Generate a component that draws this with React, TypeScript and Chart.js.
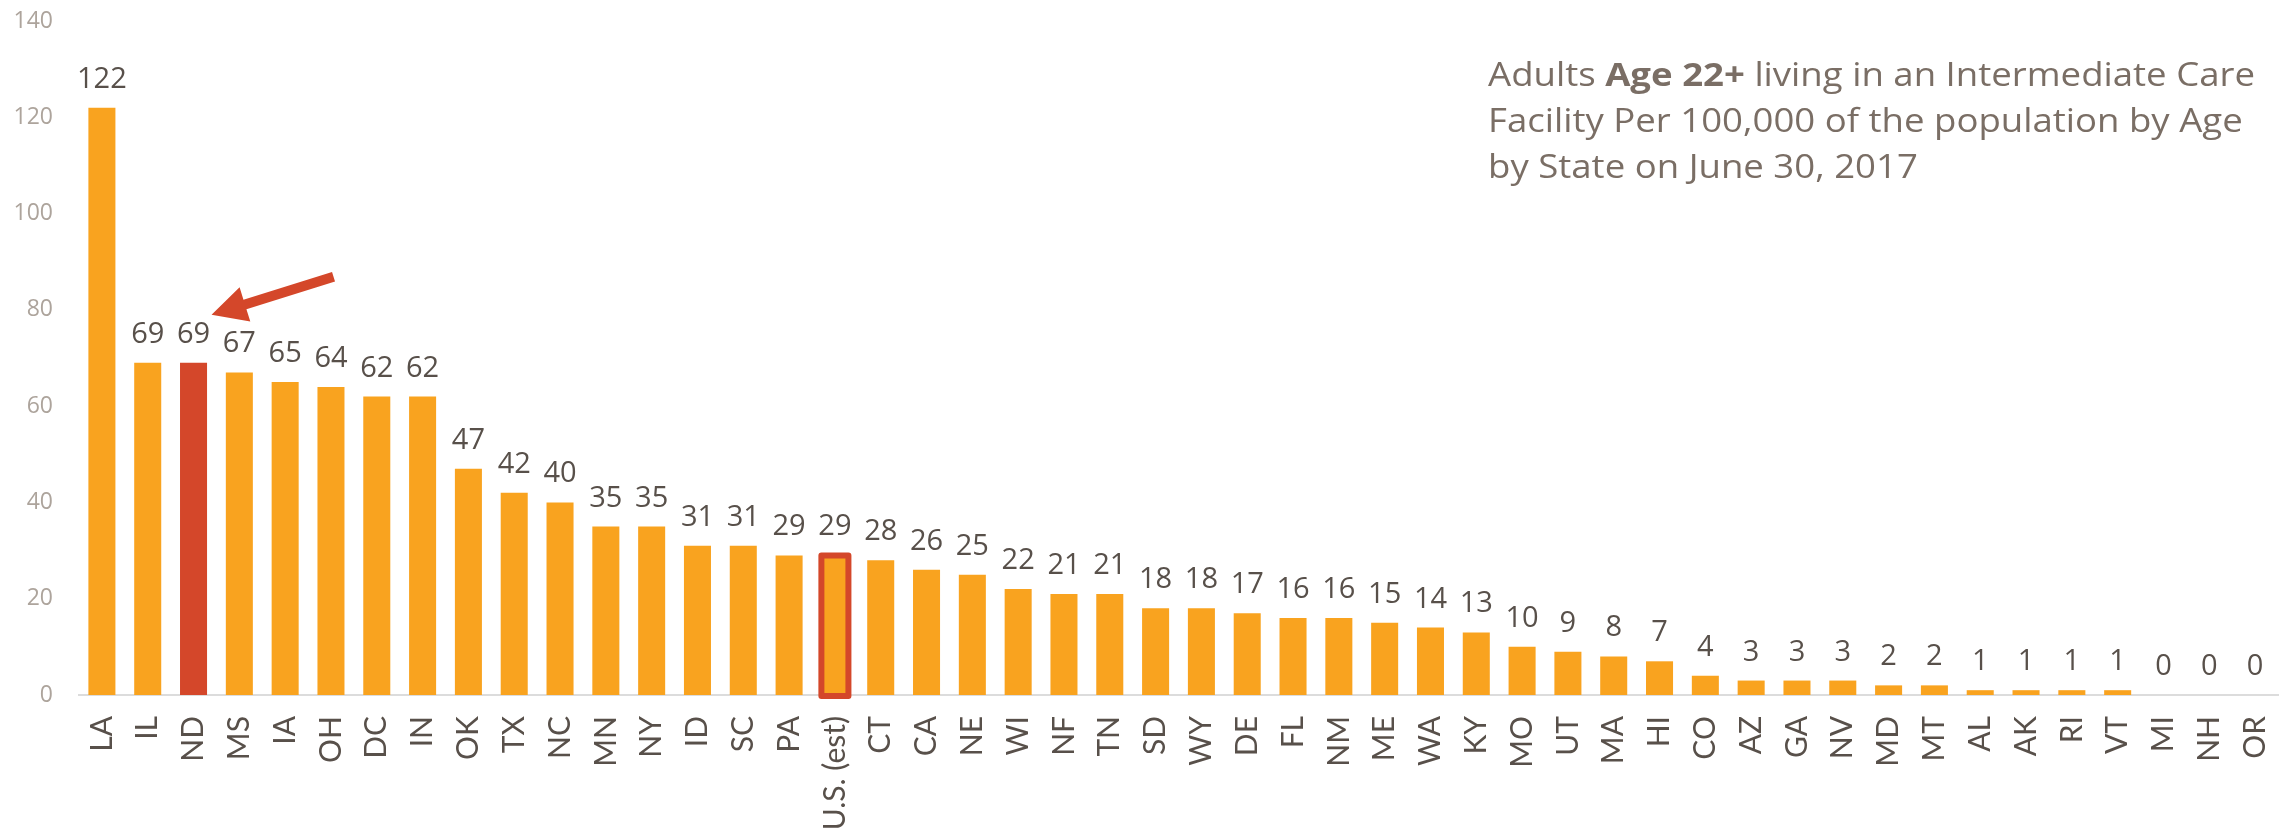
import React, { useEffect, useRef } from 'react';
import { Chart, registerables } from 'chart.js';

Chart.register(...registerables);

const categories = ['LA','IL','ND','MS','IA','OH','DC','IN','OK','TX','NC','MN','NY','ID','SC','PA','U.S. (est)','CT','CA','NE','WI','NF','TN','SD','WY','DE','FL','NM','ME','WA','KY','MO','UT','MA','HI','CO','AZ','GA','NV','MD','MT','AL','AK','RI','VT','MI','NH','OR'];
const values = [122,69,69,67,65,64,62,62,47,42,40,35,35,31,31,29,29,28,26,25,22,21,21,18,18,17,16,16,15,14,13,10,9,8,7,4,3,3,3,2,2,1,1,1,1,0,0,0];
const highlightIndex = 2; // ND
const outlinedIndex = 16; // U.S. (est)
const yMax = 140;
const yStep = 20;
const titleLine1 = [
  { text: 'Adults ', bold: false },
  { text: 'Age 22+', bold: true },
  { text: ' living in an Intermediate Care', bold: false },
];
const titleLine2 = 'Facility Per 100,000 of the population by Age';
const titleLine3 = 'by State on June 30, 2017';

const ORANGE = '#F9A31F';
const RED = '#D4472A';
const TEXT = '#58504A';
const TICK = '#ADA49C';
const TITLE = '#7A6E65';
const FONT = '"Open Sans", "Noto Sans", sans-serif';
const XFONT = 'Lato, "Open Sans", sans-serif';

const labelsPlugin = {
  id: 'valueLabels',
  afterDatasetsDraw(chart: any) {
    const ctx = chart.ctx;
    const meta = chart.getDatasetMeta(0);
    ctx.save();
    ctx.font = `29px ${FONT}`;
    ctx.fillStyle = TEXT;
    ctx.textAlign = 'center';
    ctx.textBaseline = 'alphabetic';
    meta.data.forEach((el: any, i: number) => {
      ctx.fillText(String(values[i]), el.x, el.y - 20);
    });
    ctx.restore();
  },
};

const outlinePlugin = {
  id: 'outline',
  afterDatasetsDraw(chart: any) {
    const ctx = chart.ctx;
    const el: any = chart.getDatasetMeta(0).data[outlinedIndex];
    if (!el) return;
    ctx.save();
    ctx.strokeStyle = RED;
    ctx.lineWidth = 6;
    ctx.lineJoin = 'round';
    ctx.strokeRect(el.x - el.width / 2, el.y, el.width, el.base - el.y + 1);
    ctx.restore();
  },
};

const arrowPlugin = {
  id: 'arrow',
  afterDatasetsDraw(chart: any) {
    const ctx = chart.ctx;
    const el: any = chart.getDatasetMeta(0).data[highlightIndex];
    if (!el) return;
    const tip = { x: el.x + 18, y: el.y - 48 };
    const tail = { x: el.x + 140, y: el.y - 86 };
    const dx = tail.x - tip.x, dy = tail.y - tip.y;
    const len = Math.hypot(dx, dy);
    const d = { x: dx / len, y: dy / len };
    const n = { x: -d.y, y: d.x };
    const headLen = 35, headHalf = 18, shaftHalf = 5;
    const B = { x: tip.x + d.x * headLen, y: tip.y + d.y * headLen };
    const pts = [
      tip,
      { x: B.x + n.x * headHalf, y: B.y + n.y * headHalf },
      { x: B.x + n.x * shaftHalf, y: B.y + n.y * shaftHalf },
      { x: tail.x + n.x * shaftHalf, y: tail.y + n.y * shaftHalf },
      { x: tail.x - n.x * shaftHalf, y: tail.y - n.y * shaftHalf },
      { x: B.x - n.x * shaftHalf, y: B.y - n.y * shaftHalf },
      { x: B.x - n.x * headHalf, y: B.y - n.y * headHalf },
    ];
    ctx.save();
    ctx.fillStyle = RED;
    ctx.beginPath();
    pts.forEach((p, i) => (i === 0 ? ctx.moveTo(p.x, p.y) : ctx.lineTo(p.x, p.y)));
    ctx.closePath();
    ctx.fill();
    ctx.restore();
  },
};

const titlePlugin = {
  id: 'customTitle',
  afterDraw(chart: any) {
    const ctx = chart.ctx;
    const size = 33;
    const normal = `${size}px ${FONT}`;
    const bold = `bold ${size}px ${FONT}`;
    ctx.save();
    let w = 0;
    titleLine1.forEach((s) => {
      ctx.font = s.bold ? bold : normal;
      w += ctx.measureText(s.text).width;
    });
    const targetWidth = 767;
    const sx = targetWidth / w;
    const left = 1488;
    ctx.translate(left, 0);
    ctx.scale(sx, 1);
    ctx.fillStyle = TITLE;
    ctx.textAlign = 'left';
    ctx.textBaseline = 'alphabetic';
    let x = 0;
    titleLine1.forEach((s) => {
      ctx.font = s.bold ? bold : normal;
      ctx.fillText(s.text, x, 86);
      x += ctx.measureText(s.text).width;
    });
    ctx.font = normal;
    ctx.fillText(titleLine2, 0, 132);
    ctx.fillText(titleLine3, 0, 178);
    ctx.restore();
  },
};

export default function App() {
  const ref = useRef<HTMLCanvasElement>(null);
  useEffect(() => {
    document.body.style.margin = '0';
    const canvas = ref.current;
    if (!canvas) return;
    const chart = new Chart(canvas, {
      type: 'bar',
      data: {
        labels: categories,
        datasets: [
          {
            data: values,
            backgroundColor: values.map((_, i) => (i === highlightIndex ? RED : ORANGE)),
            borderWidth: 0,
            barPercentage: 0.59,
            categoryPercentage: 1,
          },
        ],
      },
      options: {
        responsive: false,
        maintainAspectRatio: false,
        animation: false,
        layout: { padding: { top: 21, right: 15, left: 0, bottom: 0 } },
        plugins: {
          legend: { display: false },
          tooltip: { enabled: false },
          title: { display: false },
        },
        scales: {
          x: {
            grid: { display: false, drawTicks: false },
            border: { display: true, color: '#DCDCDC', width: 2 },
            ticks: {
              color: TEXT,
              font: { family: XFONT, size: 30 },
              maxRotation: 90,
              minRotation: 90,
              padding: 21,
              autoSkip: false,
            },
            afterFit: (s: any) => {
              s.height = 134;
              s.paddingLeft = 0;
              s.paddingRight = 0;
            },
          },
          y: {
            min: 0,
            max: yMax,
            grid: { display: false, drawTicks: false },
            border: { display: false },
            ticks: {
              stepSize: yStep,
              color: TICK,
              font: { family: FONT, size: 23 },
              padding: 26,
            },
            afterFit: (s: any) => {
              s.width = 79;
              s.paddingTop = 0;
              s.paddingBottom = 0;
            },
          },
        },
      } as any,
      plugins: [outlinePlugin, labelsPlugin, arrowPlugin, titlePlugin],
    });
    return () => chart.destroy();
  }, []);
  return (
    <div style={{ width: 2293, height: 829 }}>
      <canvas ref={ref} width={2293} height={829} style={{ display: 'block' }} />
    </div>
  );
}
